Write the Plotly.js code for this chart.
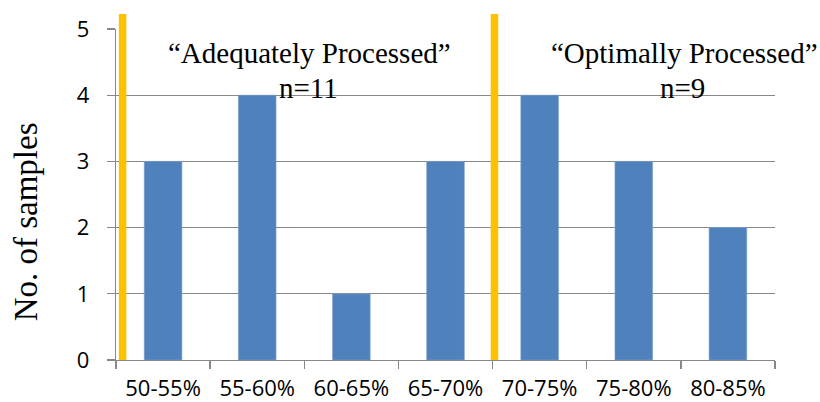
<!DOCTYPE html>
<html>
<head>
<meta charset="utf-8">
<script src="https://cdn.plot.ly/plotly-3.0.1.min.js"></script>
<style>
html,body{margin:0;padding:0;background:#fff;}
#chart{width:820px;height:402px;}
</style>
</head>
<body>
<div id="chart"></div>
<script>
const categories = ["50-55%", "55-60%", "60-65%", "65-70%", "70-75%", "75-80%", "80-85%"];
const sampleCounts = [3, 4, 1, 3, 4, 3, 2];
const yTickValues = [0, 1, 2, 3, 4, 5];
const dividerPositions = [-0.43, 3.52];
const groupLabels = ["\u201CAdequately Processed\u201D", "\u201COptimally Processed\u201D"];
const groupCounts = ["n=11", "n=9"];
const groupCenters = [1.56, 5.54];
const yTitle = "No. of samples";

const gridColor = "#888888";
const serif = "Liberation Serif, Times New Roman, serif";
const sans = "Open Sans, Noto Sans, sans-serif";

const shapes = dividerPositions.map(p => ({
  type: "line", xref: "x", yref: "paper",
  x0: p, x1: p, y0: 0, y1: 1.045,
  line: {color: "#FFC000", width: 7.5},
  layer: "above"
}));

const annotations = [];
groupLabels.forEach((t, i) => {
  annotations.push({
    text: t, xref: "x", yref: "y", x: groupCenters[i], y: 4.64,
    showarrow: false, xanchor: "center", yanchor: "middle",
    font: {family: serif, size: 29, color: "#000"}
  });
  annotations.push({
    text: groupCounts[i], xref: "x", yref: "y", x: groupCenters[i] - 0.02, y: 4.11,
    showarrow: false, xanchor: "center", yanchor: "middle",
    font: {family: serif, size: 29, color: "#000"}
  });
});
annotations.push({
  text: yTitle, xref: "paper", yref: "paper", x: -0.137, y: 0.418,
  showarrow: false, textangle: -90, xanchor: "center", yanchor: "middle",
  font: {family: serif, size: 33, color: "#000"}
});

const data = [{
  type: "bar",
  x: categories,
  y: sampleCounts,
  width: 0.4,
  marker: {color: "#4F81BD", line: {color: "#7EA1CF", width: 0.6}},
  hoverinfo: "skip"
}];

const layout = {
  width: 820, height: 402,
  margin: {l: 116, r: 45, t: 29, b: 42, pad: 0},
  paper_bgcolor: "#fff", plot_bgcolor: "#fff",
  showlegend: false,
  bargap: 0.6,
  xaxis: {
    type: "category",
    range: [-0.5, 6.5],
    showline: true, linecolor: gridColor, linewidth: 1.3,
    ticks: "outside", tickson: "boundaries", ticklen: 8, tickcolor: gridColor, tickwidth: 1.3,
    showgrid: false,
    tickfont: {family: sans, size: 22, color: "#000"},
    ticklabelstandoff: 8,
    fixedrange: true
  },
  yaxis: {
    range: [0, 5],
    tickvals: yTickValues,
    showline: true, linecolor: gridColor, linewidth: 1.3,
    ticks: "outside", ticklen: 8, tickcolor: gridColor, tickwidth: 1.3,
    showgrid: true, gridcolor: gridColor, gridwidth: 1.3,
    zeroline: false,
    tickfont: {family: sans, size: 22, color: "#000"},
    ticklabelstandoff: 13,
    fixedrange: true
  },
  shapes: shapes,
  annotations: annotations
};

Plotly.newPlot("chart", data, layout, {displayModeBar: false, staticPlot: true});
</script>
</body>
</html>
